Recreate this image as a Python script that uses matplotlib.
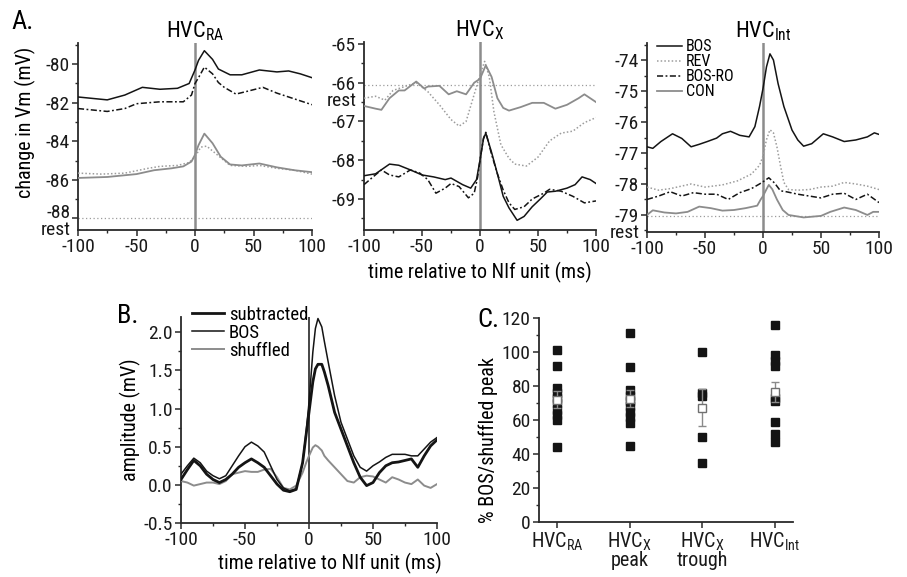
"""Membrane potential responses around NIf unit spikes (HVC panels A-C)."""

import matplotlib
matplotlib.use("Agg")
import matplotlib.pyplot as plt
from matplotlib.ticker import MultipleLocator, FormatStrFormatter
from matplotlib import transforms

plt.rcParams["font.family"] = ["Roboto Condensed", "DejaVu Sans"]
plt.rcParams["mathtext.fontset"] = "custom"
plt.rcParams["mathtext.rm"] = "Roboto Condensed"
plt.rcParams["mathtext.it"] = "Roboto Condensed:italic"
plt.rcParams["axes.unicode_minus"] = False

# ---- panel A, HVC_RA ----
ra_bos_t = [-100, -75, -60, -45, -30, -15, -5, 0, 3, 8, 15, 20, 30, 40, 55, 70, 80, 90, 100]
ra_bos_v = [-81.7, -81.85, -81.6, -81.2, -81.3, -81.25, -81.0, -80.3, -79.8, -79.3, -79.75,
            -80.25, -80.55, -80.55, -80.3, -80.4, -80.35, -80.5, -80.7]
ra_ro_t = [-100, -75, -60, -50, -30, -10, -3, 0, 3, 8, 15, 20, 25, 35, 45, 58, 70, 85, 100]
ra_ro_v = [-82.3, -82.45, -82.3, -82.05, -81.95, -81.95, -81.6, -81.0, -80.7, -80.15, -80.5,
           -80.95, -81.2, -81.55, -81.4, -81.2, -81.5, -81.8, -82.1]
ra_con_t = [-100, -75, -50, -35, -20, -10, -3, 0, 3, 8, 15, 22, 30, 40, 55, 70, 85, 100]
ra_con_v = [-85.9, -85.85, -85.7, -85.5, -85.4, -85.3, -85.05, -84.7, -84.2, -83.6, -84.1,
            -84.8, -85.2, -85.25, -85.15, -85.35, -85.5, -85.6]
ra_rev_t = [-100, -80, -60, -40, -30, -15, -5, 0, 5, 10, 15, 22, 30, 45, 55, 70, 85, 100]
ra_rev_v = [-85.65, -85.7, -85.65, -85.4, -85.3, -85.25, -85.1, -84.8, -84.3, -84.25, -84.5,
            -84.85, -85.25, -85.3, -85.25, -85.4, -85.5, -85.7]
ra_rest = -88.0

# ---- panel A, HVC_X ----
x_con_t = [-100, -90, -85, -78, -70, -65, -55, -48, -45, -35, -27, -20, -12, -5, 0, 5, 10, 15,
           20, 25, 35, 45, 55, 65, 75, 85, 90, 100]
x_con_v = [-66.6, -66.67, -66.7, -66.4, -66.2, -66.2, -65.97, -66.15, -66.1, -66.08, -66.3,
           -66.22, -66.3, -66.0, -65.9, -65.55, -65.85, -66.4, -66.65, -66.72, -66.63, -66.52,
           -66.52, -66.67, -66.57, -66.4, -66.3, -66.5]
x_rev_t = [-100, -90, -82, -75, -60, -55, -45, -35, -25, -18, -12, -5, 0, 4, 8, 12, 18, 25, 30,
           40, 50, 60, 70, 80, 90, 100]
x_rev_v = [-66.4, -66.35, -66.45, -66.2, -66.05, -66.0, -66.23, -66.57, -66.95, -67.12, -67.0,
           -66.3, -65.8, -65.45, -65.85, -66.75, -67.6, -67.95, -68.1, -68.15, -67.92, -67.5,
           -67.3, -67.25, -67.03, -66.9]
x_bos_t = [-100, -90, -78, -70, -60, -50, -40, -30, -25, -15, -8, -3, 0, 3, 5, 10, 15, 20, 25,
           32, 38, 45, 52, 58, 65, 75, 82, 88, 95, 100]
x_bos_v = [-68.4, -68.35, -68.1, -68.13, -68.25, -68.38, -68.43, -68.5, -68.46, -68.63, -68.72,
           -68.5, -68.0, -67.45, -67.3, -67.8, -68.35, -68.93, -69.23, -69.55, -69.45, -69.2,
           -69.0, -68.82, -68.8, -68.72, -68.63, -68.43, -68.5, -68.6]
x_ro_t = [-100, -93, -85, -78, -70, -60, -52, -45, -38, -30, -25, -18, -10, -5, -2, 0, 3, 5, 10,
          15, 20, 25, 30, 38, 45, 55, 60, 70, 80, 90, 100]
x_ro_v = [-68.63, -68.45, -68.25, -68.38, -68.43, -68.25, -68.33, -68.5, -68.85, -68.72, -68.6,
          -68.68, -68.97, -68.85, -68.43, -68.0, -67.43, -67.28, -67.85, -68.35, -68.77, -69.1,
          -69.27, -69.2, -69.0, -68.85, -68.75, -68.8, -68.93, -69.1, -69.05]
x_rest = -66.06

# ---- panel A, HVC_Int ----
int_bos_t = [-100, -95, -88, -78, -70, -62, -55, -48, -40, -35, -28, -20, -12, -7, -3, 0, 3, 6,
             9, 13, 18, 25, 30, 35, 42, 52, 60, 70, 80, 90, 96, 100]
int_bos_v = [-76.8, -76.85, -76.63, -76.38, -76.53, -76.8, -76.72, -76.63, -76.52, -76.38, -76.3,
             -76.43, -76.48, -76.15, -75.5, -74.92, -74.22, -73.8, -74.0, -74.76, -75.5, -76.26,
             -76.58, -76.78, -76.7, -76.38, -76.48, -76.63, -76.58, -76.48, -76.35, -76.4]
int_rev_t = [-100, -90, -80, -62, -50, -35, -22, -10, -3, 0, 3, 6, 9, 12, 15, 18, 22, 30, 40, 50,
             60, 70, 80, 90, 100]
int_rev_v = [-78.1, -78.2, -78.15, -78.0, -78.1, -78.03, -77.9, -77.68, -77.4, -77.1, -76.57,
             -76.25, -76.35, -76.8, -77.4, -77.95, -78.18, -78.2, -78.18, -78.1, -78.07, -77.95,
             -78.0, -78.07, -78.18]
int_ro_t = [-100, -90, -80, -70, -60, -50, -40, -30, -20, -10, -3, 0, 5, 10, 15, 20, 30, 40, 50,
            60, 70, 80, 90, 100]
int_ro_v = [-78.5, -78.39, -78.25, -78.39, -78.28, -78.33, -78.33, -78.5, -78.28, -78.15, -78.0,
            -77.93, -77.8, -77.97, -78.22, -78.25, -78.33, -78.39, -78.45, -78.33, -78.3, -78.5,
            -78.33, -78.6]
int_con_t = [-100, -95, -85, -75, -65, -55, -45, -35, -25, -15, -5, -2, 0, 3, 5, 8, 12, 17, 22,
             35, 50, 58, 70, 80, 90, 95, 100]
int_con_v = [-79.0, -78.85, -78.92, -78.95, -78.9, -78.73, -78.78, -78.86, -78.84, -78.78, -78.7,
             -78.5, -78.39, -78.17, -78.03, -78.17, -78.5, -78.84, -79.0, -79.08, -79.03, -78.9,
             -78.76, -78.84, -79.0, -78.9, -78.9]
int_rest = -79.03

# ---- panel B ----
b_t = [-100, -95, -90, -85, -80, -75, -70, -65, -60, -55, -50, -45, -40, -35, -30, -25, -20,
       -15, -10, -5, -2, 0, 3, 5, 7, 10, 12, 15, 20, 25, 30, 35, 40, 45, 50, 55, 60, 65, 70, 75,
       80, 85, 90, 95, 100]
b_bos = [0.14, 0.25, 0.35, 0.29, 0.18, 0.12, 0.08, 0.12, 0.25, 0.38, 0.50, 0.56, 0.51, 0.43,
         0.25, 0.07, -0.04, -0.08, -0.05, 0.29, 0.73, 1.08, 1.74, 2.05, 2.18, 2.07, 1.88, 1.61,
         1.17, 0.82, 0.60, 0.38, 0.23, 0.18, 0.25, 0.30, 0.36, 0.40, 0.40, 0.40, 0.38, 0.38,
         0.47, 0.56, 0.62]
b_sub = [0.07, 0.20, 0.32, 0.25, 0.14, 0.07, 0.03, 0.07, 0.14, 0.23, 0.29, 0.34, 0.29, 0.23,
         0.12, 0.01, -0.07, -0.09, -0.06, 0.29, 0.69, 0.95, 1.35, 1.52, 1.58, 1.58, 1.48, 1.30,
         0.95, 0.73, 0.51, 0.29, 0.10, -0.01, 0.03, 0.16, 0.25, 0.29, 0.30, 0.32, 0.34, 0.23,
         0.38, 0.51, 0.59]
b_shuf = [0.05, 0.03, -0.01, 0.01, 0.03, 0.03, 0.01, 0.05, 0.14, 0.16, 0.18, 0.17, 0.17, 0.20,
          0.21, 0.10, -0.04, -0.06, -0.01, 0.16, 0.30, 0.38, 0.49, 0.52, 0.50, 0.45, 0.38, 0.32,
          0.23, 0.14, 0.05, 0.03, 0.10, 0.12, 0.11, 0.07, 0.03, 0.10, 0.07, 0.03, 0.01, 0.07,
          -0.01, -0.04, 0.01]

# ---- panel C ----
c_labels = [r"HVC$_{\mathrm{RA}}$", "HVC$_{\\mathrm{X}}$\npeak", "HVC$_{\\mathrm{X}}$\ntrough",
            r"HVC$_{\mathrm{Int}}$"]
c_points = [
    [101, 92, 79, 76, 73, 70, 66, 63, 60, 44],
    [111, 91, 77.5, 74, 71, 68, 65, 62, 58.5, 45],
    [100, 76, 74, 50, 35],
    [116, 98.5, 95, 91.5, 73, 71, 59, 51.5, 47],
]
c_mean = [72, 72.4, 67.3, 76.3]
c_sem = [5, 5, 11, 6]

BLACK = "#141414"
GRAY = "#8c8c8c"
LGRAY = "#9c9c9c"
AXC = "#2a2a2a"
TICK_FS = 14


def fx(px):
    return px / 907


def fy(py):
    return 1 - py / 577


def style(ax):
    for s in ("top", "right"):
        ax.spines[s].set_visible(False)
    for s in ("left", "bottom"):
        ax.spines[s].set_linewidth(1.3)
        ax.spines[s].set_color(AXC)
    ax.tick_params(which="major", direction="out", length=4.5, width=1.1, colors=AXC,
                   labelsize=TICK_FS, labelcolor="#1a1a1a", pad=1.5)
    ax.tick_params(which="minor", direction="out", length=2.5, width=1.0, colors=AXC)


def left_text(ax, y, s):
    tr = transforms.blended_transform_factory(ax.transAxes, ax.transData)
    ax.text(-0.03, y, s, transform=tr, ha="right", va="center", fontsize=TICK_FS,
            color="#1a1a1a")


fig = plt.figure(figsize=(9.07, 5.77), dpi=100)

boxes = [(78, 312, 43, 230), (364, 596, 42, 230), (647, 879, 43, 232)]
axes_a = [fig.add_axes([fx(l), fy(b), fx(r - l), (b - t) / 577]) for l, r, t, b in boxes]

dashdot = (0, (4, 1.6, 1.2, 1.6))
sets = [
    (ra_bos_t, ra_bos_v, ra_rev_t, ra_rev_v, ra_ro_t, ra_ro_v, ra_con_t, ra_con_v),
    (x_bos_t, x_bos_v, x_rev_t, x_rev_v, x_ro_t, x_ro_v, x_con_t, x_con_v),
    (int_bos_t, int_bos_v, int_rev_t, int_rev_v, int_ro_t, int_ro_v, int_con_t, int_con_v),
]
titles = [r"HVC$_{\mathrm{RA}}$", r"HVC$_{\mathrm{X}}$", r"HVC$_{\mathrm{Int}}$"]
limits = [(-88.6, -78.9), (-69.8, -64.95), (-79.55, -73.45)]
ticks = [[-88, -86, -84, -82, -80], [-69, -68, -67, -66, -65], [-79, -78, -77, -76, -75, -74]]
minors = [1, 0.5, 0.5]
rests = [(ra_rest, 0.6), (x_rest, 0.42), (int_rest, 0.55)]

for ax, d, ttl, lim, tk, mn, (rv, dy) in zip(axes_a, sets, titles, limits, ticks, minors, rests):
    style(ax)
    ax.axvline(0, color=GRAY, lw=1.8, zorder=2)
    ax.axhline(rv, color=LGRAY, lw=0.9, ls=(0, (1, 2)), zorder=1)
    left_text(ax, rv - dy, "rest")
    ax.plot(d[0], d[1], color=BLACK, lw=1.1, label="BOS", zorder=4)
    ax.plot(d[2], d[3], color=LGRAY, lw=1.1, ls=(0, (1, 1.4)), label="REV", zorder=3)
    ax.plot(d[4], d[5], color=BLACK, lw=1.1, ls=dashdot, label="BOS-RO", zorder=4)
    ax.plot(d[6], d[7], color=GRAY, lw=1.3, label="CON", zorder=3)
    ax.set_xlim(-100, 100)
    ax.set_ylim(*lim)
    ax.set_yticks(tk)
    ax.yaxis.set_minor_locator(MultipleLocator(mn))
    ax.set_xticks([-100, -50, 0, 50, 100])
    ax.xaxis.set_minor_locator(MultipleLocator(25))
    ax.set_title(ttl, fontsize=16, pad=3)

# the -88 label sits a little above its tick in the original, to make room for "rest"
axes_a[0].set_yticklabels(["", "-86", "-84", "-82", "-80"])
left_text(axes_a[0], -87.7, "-88")

axes_a[2].legend(loc="upper left", bbox_to_anchor=(0.0, 1.07), frameon=False, fontsize=11.5,
                 handlelength=1.6, handletextpad=0.25, labelspacing=0.0, borderaxespad=0.2)

fig.text(0.013, fy(22), "A.", fontsize=19, va="center", ha="left")
fig.text(fx(25), fy(122), "change in Vm (mV)", rotation=90, fontsize=14.5, ha="center",
         va="center")
fig.text(fx(480), fy(272), "time relative to NIf unit (ms)", fontsize=14.5, ha="center",
         va="center")

# ---- panel B ----
axb = fig.add_axes([fx(181), fy(523), fx(437 - 181), (523 - 317) / 577])
style(axb)
axb.axvline(0, color=BLACK, lw=1.1, zorder=2)
axb.plot(b_t, b_sub, color=BLACK, lw=2.0, label="subtracted", zorder=4)
axb.plot(b_t, b_bos, color=BLACK, lw=1.1, label="BOS", zorder=4)
axb.plot(b_t, b_shuf, color=GRAY, lw=1.4, label="shuffled", zorder=3)
axb.set_xlim(-100, 100)
axb.set_ylim(-0.5, 2.2)
axb.set_yticks([-0.5, 0.0, 0.5, 1.0, 1.5, 2.0])
axb.yaxis.set_major_formatter(FormatStrFormatter("%.1f"))
axb.yaxis.set_minor_locator(MultipleLocator(0.25))
axb.set_xticks([-100, -50, 0, 50, 100])
axb.xaxis.set_minor_locator(MultipleLocator(25))
axb.legend(loc="upper left", bbox_to_anchor=(0.0, 1.11), frameon=False, fontsize=13.5,
           handlelength=1.7, handletextpad=0.25, labelspacing=0.0, borderaxespad=0.2)
fig.text(fx(117), fy(316), "B.", fontsize=19, va="center", ha="left")
fig.text(fx(130), fy(420), "amplitude (mV)", rotation=90, fontsize=14.5, ha="center",
         va="center")
fig.text(fx(330), fy(563), "time relative to NIf unit (ms)", fontsize=14.5, ha="center",
         va="center")

# ---- panel C ----
axc = fig.add_axes([fx(539), fy(522), fx(793 - 539), (522 - 318) / 577])
style(axc)
for i, pts in enumerate(c_points):
    axc.plot([i] * len(pts), pts, ls="none", marker="s", ms=5.5, color=BLACK, zorder=3)
axc.errorbar(range(len(c_mean)), c_mean, yerr=c_sem, fmt="s", ms=6, mfc="white", mec="#707070",
             mew=1.0, ecolor="#8a8a8a", elinewidth=1.0, capsize=3, capthick=1.0, zorder=4)
axc.set_xlim(-0.25, 3.25)
axc.set_ylim(0, 120)
axc.set_yticks(range(0, 121, 20))
axc.yaxis.set_minor_locator(MultipleLocator(10))
axc.set_xticks(range(len(c_labels)))
axc.set_xticklabels(c_labels, fontsize=14.5, linespacing=0.9)
fig.text(fx(477), fy(320), "C.", fontsize=19, va="center", ha="left")
fig.text(fx(488), fy(440), "% BOS/shuffled peak", rotation=90, fontsize=14.5, ha="center",
         va="center")

fig.savefig("out.png", dpi=100)
